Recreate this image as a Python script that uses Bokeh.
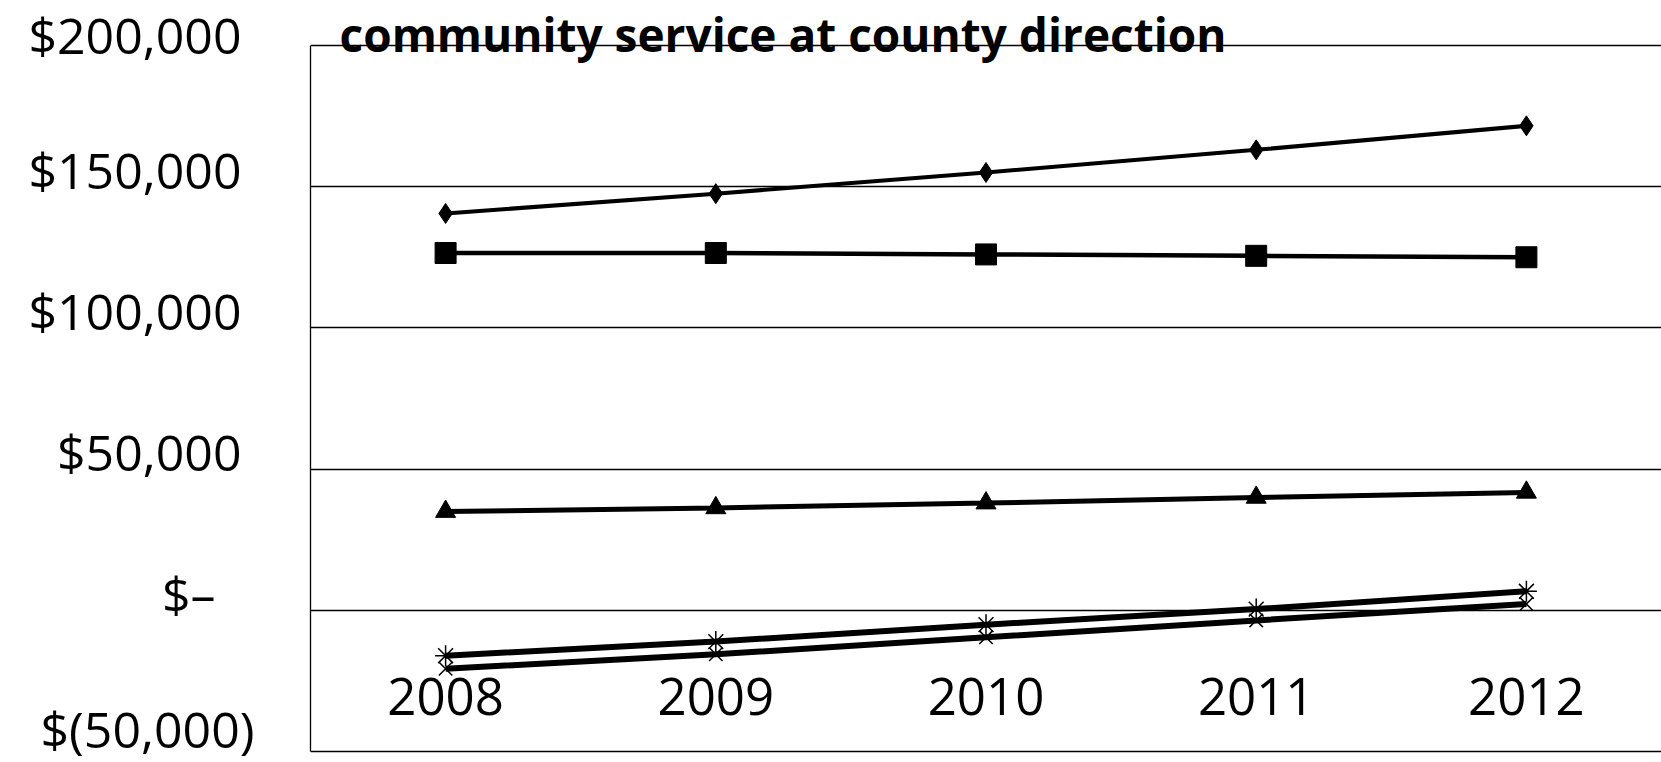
from bokeh.plotting import figure
from bokeh.models import FactorRange, Range1d, FixedTicker, Label
from bokeh.embed import file_html
from bokeh.resources import INLINE

# ---- data ----
years = ["2008", "2009", "2010", "2011", "2012"]
series_diamond = [140500, 147500, 155000, 163000, 171500]
series_square = [126500, 126500, 126000, 125500, 125000]
series_triangle = [35000, 36300, 38000, 40000, 41800]
series_star = [-16000, -11000, -5000, 500, 6800]
series_x = [-20600, -15500, -9500, -3500, 2300]
y_ticks = [-50000, 0, 50000, 100000, 150000, 200000]
y_tick_labels = ["$(50,000)", "$\u2013\u00a0\u00a0\u00a0", "$50,000\u00a0",
                 "$100,000\u00a0", "$150,000\u00a0", "$200,000\u00a0"]
title_text = "community service at county direction"

FONT = "Open Sans"

p = figure(width=1661, height=762,
           x_range=FactorRange(*years), y_range=Range1d(-50600, 215850),
           output_backend="svg", toolbar_location=None,
           min_border_left=310, min_border_top=0, min_border_bottom=9,
           min_border_right=0)
p.outline_line_color = None
p.background_fill_color = "white"
p.border_fill_color = "white"

# grid
p.xgrid.visible = False
p.ygrid.ticker = FixedTicker(ticks=y_ticks)
p.ygrid.grid_line_color = "black"
p.ygrid.grid_line_width = 1.3

# y axis (labels sit slightly above their gridlines, as in the original;
# the lowest one is kept single-line so it stays inside the canvas)
overrides = {}
for t, l in zip(y_ticks, y_tick_labels):
    overrides[t] = l if t == y_ticks[0] else l + "\n"
p.yaxis.ticker = FixedTicker(ticks=y_ticks)
p.yaxis.bounds = (-50000, 200000)
p.yaxis.major_label_overrides = overrides
p.yaxis.major_label_text_line_height = 0.5
p.yaxis.major_label_text_font = FONT
p.yaxis.major_label_text_font_size = "50px"
p.yaxis.major_label_text_color = "black"
p.yaxis.major_label_standoff = 56
p.yaxis.major_tick_in = 0
p.yaxis.major_tick_out = 0
p.yaxis.minor_tick_in = 0
p.yaxis.minor_tick_out = 0
p.yaxis.axis_line_color = "black"
p.yaxis.axis_line_width = 1.3

# x axis, inside the frame
p.xaxis.fixed_location = -24000
p.xaxis.axis_line_color = None
p.xaxis.major_tick_in = 0
p.xaxis.major_tick_out = 0
p.xaxis.major_label_standoff = 0
p.xaxis.major_label_text_font = FONT
p.xaxis.major_label_text_font_size = "51px"
p.xaxis.major_label_text_color = "black"

# series
p.line(years, series_diamond, line_color="black", line_width=4)
p.scatter(years, series_diamond, marker="diamond", size=20, color="black")

p.line(years, series_square, line_color="black", line_width=4.5)
p.scatter(years, series_square, marker="square", size=21, color="black")

p.line(years, series_triangle, line_color="black", line_width=5)
p.scatter(years, series_triangle, marker="triangle", size=20, color="black")

p.line(years, series_star, line_color="black", line_width=6)
p.scatter(years, series_star, marker="asterisk", size=21, line_color="black",
          line_width=1.5)

p.line(years, series_x, line_color="black", line_width=6)
p.scatter(years, series_x, marker="x", size=19, line_color="black", line_width=1.5)

# title text sitting on the top border
title = Label(x=0, y=200000, x_offset=29, y_offset=11, text=title_text,
              text_font=FONT, text_font_style="bold", text_font_size="46px",
              text_color="black", text_baseline="alphabetic")
p.add_layout(title)

open("out.html", "w").write(file_html(p, INLINE))
